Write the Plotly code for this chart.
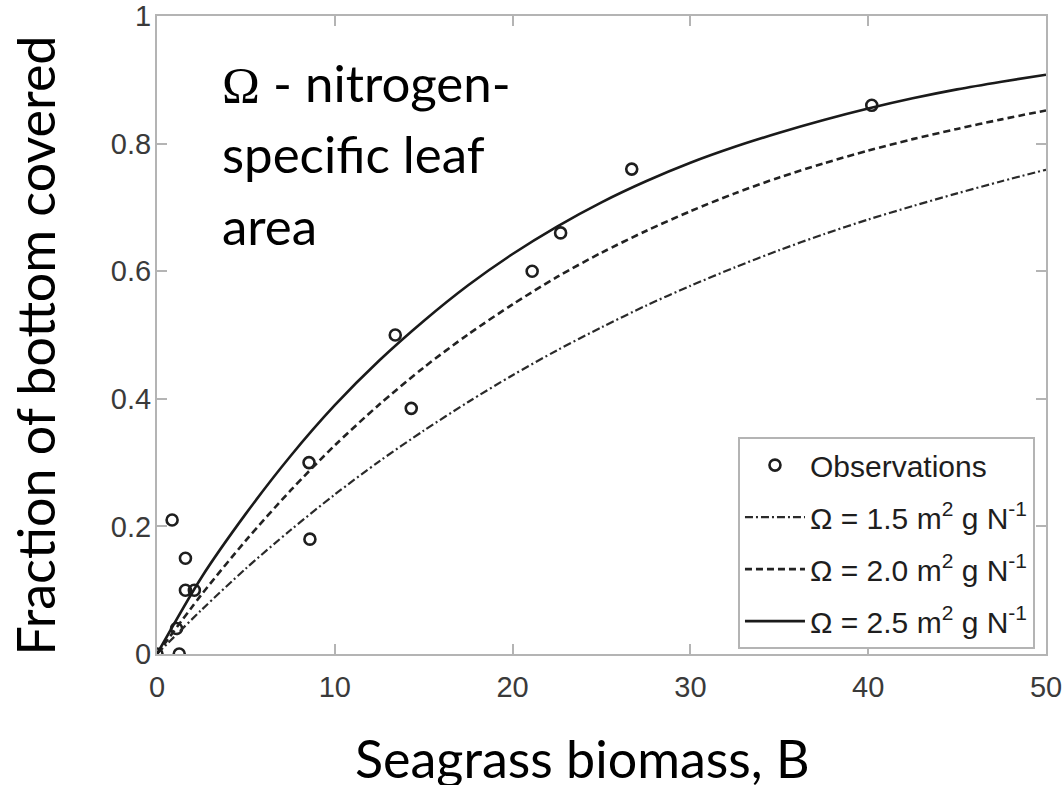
import plotly.graph_objects as go

# Observations
obs_x = [0.0, 0.85, 1.1, 1.25, 1.6, 1.6, 2.1, 8.55, 8.6, 13.4, 14.3, 21.1, 22.7, 26.7, 40.2]
obs_y = [0.0, 0.21, 0.04, 0.0, 0.15, 0.10, 0.10, 0.30, 0.18, 0.50, 0.385, 0.60, 0.66, 0.76, 0.86]

# Model curves
curve_x = [0, 2.5, 5, 7.5, 10, 12.5, 15, 17.5, 20, 22.5, 25, 27.5, 30, 32.5, 35, 37.5, 40, 42.5, 45, 47.5, 50]
omega15 = [0, 0.069, 0.134, 0.194, 0.250, 0.302, 0.350, 0.395, 0.437, 0.476, 0.512, 0.546, 0.577, 0.606, 0.633, 0.658, 0.681, 0.702, 0.722, 0.741, 0.759]
omega20 = [0, 0.093, 0.178, 0.256, 0.327, 0.391, 0.449, 0.501, 0.548, 0.591, 0.629, 0.663, 0.694, 0.722, 0.747, 0.769, 0.789, 0.807, 0.823, 0.838, 0.852]
omega25 = [0, 0.120, 0.220, 0.310, 0.390, 0.460, 0.522, 0.578, 0.627, 0.670, 0.708, 0.741, 0.770, 0.795, 0.817, 0.837, 0.855, 0.871, 0.885, 0.897, 0.908]

x_ticks = [0, 10, 20, 30, 40, 50]
y_ticks = [0, 0.2, 0.4, 0.6, 0.8, 1]
y_tick_text = ["0", "0.2", "0.4", "0.6", "0.8", "1"]

note_lines = ["<span style=\"font-family:'Liberation Serif'\">Ω</span> - nitrogen-", "specific leaf", "area"]

INK = "#1e1e1e"
FRAME = "#b4b4b4"

fig = go.Figure()
fig.add_trace(go.Scatter(
    x=obs_x, y=obs_y, mode="markers", name="Observations", legendgroup="a",
    marker=dict(symbol="circle-open", size=11, color=INK, line=dict(width=2.6, color=INK)),
))
fig.add_trace(go.Scatter(
    x=curve_x, y=omega15, mode="lines", name="Ω = 1.5 m<sup>2</sup> g N<sup>-1</sup>", legendgroup="b",
    line=dict(color="#2a2a2a", width=2.2, dash="8px,3px,2px,3px", shape="spline", smoothing=0.8),
))
fig.add_trace(go.Scatter(
    x=curve_x, y=omega20, mode="lines", name="Ω = 2.0 m<sup>2</sup> g N<sup>-1</sup>", legendgroup="c",
    line=dict(color="#222222", width=2.6, dash="7px,4px", shape="spline", smoothing=0.8),
))
fig.add_trace(go.Scatter(
    x=curve_x, y=omega25, mode="lines", name="Ω = 2.5 m<sup>2</sup> g N<sup>-1</sup>", legendgroup="d",
    line=dict(color="#1a1a1a", width=2.6, shape="spline", smoothing=0.8),
))

axis_common = dict(
    showgrid=False, zeroline=False, showline=True, linecolor=FRAME, linewidth=2,
    mirror="ticks", ticks="inside", ticklen=10, tickwidth=2, tickcolor=FRAME,
    automargin=False,
    tickfont=dict(family="Liberation Sans, Arial, sans-serif", size=29, color="#3a3a3a"),
)

annotations = [
    dict(text="Fraction of bottom covered", xref="paper", yref="paper",
         x=-0.137, y=0.484, xanchor="center", yanchor="middle", textangle=-90,
         showarrow=False, font=dict(family="Lato, sans-serif", size=52, color="#000000")),
    dict(text="Seagrass biomass, B", xref="paper", yref="paper",
         x=0.479, y=-0.163, xanchor="center", yanchor="middle",
         showarrow=False, font=dict(family="Lato, sans-serif", size=52, color="#000000")),
]
for i, line in enumerate(note_lines):
    annotations.append(dict(
        text=line, xref="paper", yref="paper", x=0.071, y=0.896 - i * 0.112,
        xanchor="left", yanchor="middle", align="left", showarrow=False,
        font=dict(family="Lato, sans-serif", size=51, color="#000000"),
    ))

fig.update_layout(
    width=1063, height=785,
    margin=dict(l=157, r=17, t=16, b=131, autoexpand=False),
    paper_bgcolor="white", plot_bgcolor="white",
    xaxis=dict(range=[0, 50], tickvals=x_ticks, ticktext=[str(v) for v in x_ticks],
               ticklabelstandoff=6, **axis_common),
    yaxis=dict(range=[0, 1], tickvals=y_ticks, ticktext=y_tick_text,
               ticklabelstandoff=-2, **axis_common),
    showlegend=True,
    legend=dict(
        x=0.9876, xanchor="right", xref="paper",
        y=0.340, yanchor="top", yref="paper",
        bgcolor="white", bordercolor=FRAME, borderwidth=2,
        font=dict(family="Liberation Sans, Arial, sans-serif", size=30, color=INK),
        traceorder="grouped", tracegroupgap=10, itemwidth=60,
    ),
    annotations=annotations,
)

fig.write_html("out.html", config={"displayModeBar": False},
               post_script="document.body.style.margin='0';")
